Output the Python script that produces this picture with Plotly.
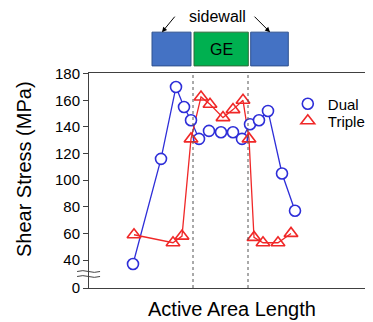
import plotly.graph_objects as go

# Data (x: relative position along active area, arbitrary units)
dual_x = [44, 72, 87, 95, 102, 110, 120, 132, 144, 153, 161, 170, 179, 193, 206]
dual_y = [37, 116, 170, 155, 145, 131, 137, 136, 136, 131, 142, 145, 152, 105, 77]
triple_x = [45, 84, 93, 102, 112, 121, 134, 144, 154, 160, 165, 174, 189, 202]
triple_y = [59, 53, 58, 131, 162.5, 157, 147, 153, 160, 131, 57, 53, 53, 60]

tick_vals = [19, 40, 60, 80, 100, 120, 140, 160, 180]
tick_text = ["0", "40", "60", "80", "100", "120", "140", "160", "180"]

blue = "#2E2ED8"
red = "#F02828"
font = "Liberation Sans, Arial, sans-serif"

fig = go.Figure()
fig.add_trace(go.Scatter(x=dual_x, y=dual_y, mode="lines", line=dict(color=blue, width=1.3),
                         showlegend=False, hoverinfo="skip"))
fig.add_trace(go.Scatter(x=triple_x, y=triple_y, mode="lines", line=dict(color=red, width=1.3),
                         showlegend=False, hoverinfo="skip"))
fig.add_trace(go.Scatter(x=dual_x, y=dual_y, mode="markers", name="Dual", legend="legend",
                         marker=dict(symbol="circle", size=11, color="white",
                                     line=dict(color=blue, width=1.6))))
fig.add_trace(go.Scatter(x=triple_x, y=triple_y, mode="markers", name="Triple", legend="legend2",
                         marker=dict(symbol="triangle-up", size=12, color="rgba(255,255,255,0)",
                                     line=dict(color=red, width=1.6))))

shapes = []
# dashed lines at GE edges
for xv in [104, 159]:
    shapes.append(dict(type="line", xref="x", yref="paper", x0=xv, x1=xv, y0=0, y1=1,
                       line=dict(color="#555555", width=1, dash="dot")))
# top schematic boxes
for (x0, x1, fill, edge) in [(63, 102, "#4472C4", "#2F528F"),
                             (105, 159.3, "#00B050", "#2F6B3A"),
                             (161.7, 199.3, "#4472C4", "#2F528F")]:
    shapes.append(dict(type="rect", xref="x", yref="paper", x0=x0, x1=x1, y0=1.033, y1=1.19,
                       fillcolor=fill, line=dict(color=edge, width=1)))
# axis break symbol
for yc in [0.0767, 0.0535]:
    a = 0.008
    x0, x1 = -0.042, 0.039
    xm = (x0 + x1) / 2
    q1 = (x0 + xm) / 2
    path = f"M {x0},{yc} Q {q1},{yc + a} {xm},{yc} T {x1},{yc}"
    shapes.append(dict(type="path", xref="paper", yref="paper", path=path,
                       line=dict(color="#444444", width=1)))

annotations = [
    dict(text="sidewall", xref="x", yref="paper", x=128, y=1.262, showarrow=False,
         xanchor="center", yanchor="middle",
         font=dict(size=16, color="black", family=font)),
    dict(text="GE", xref="x", yref="paper", x=132, y=1.111, showarrow=False,
         xanchor="center", yanchor="middle",
         font=dict(size=16, color="black", family=font)),
    dict(text="", xref="x", yref="paper", x=73, y=1.19, ax=14, ay=-17, showarrow=True,
         arrowhead=2, arrowsize=1, arrowwidth=1, arrowcolor="black"),
    dict(text="", xref="x", yref="paper", x=181, y=1.19, ax=-17, ay=-17, showarrow=True,
         arrowhead=2, arrowsize=1, arrowwidth=1, arrowcolor="black"),
    dict(text="Active Area Length", xref="paper", yref="paper", x=0.5035, y=-0.097,
         xanchor="center", yanchor="middle", showarrow=False,
         font=dict(size=20, color="black", family=font)),
    dict(text="Shear Stress (MPa)", xref="paper", yref="paper", x=-0.229, y=0.553,
         xanchor="center", yanchor="middle", showarrow=False, textangle=-90,
         font=dict(size=20, color="black", family=font)),
]

leg = dict(xanchor="left", yanchor="middle", bgcolor="rgba(0,0,0,0)",
           font=dict(size=15), itemwidth=30)

# page has an 8px body margin, so the figure is sized/offset to compensate
fig.update_layout(
    width=365, height=314,
    margin=dict(l=81, r=0, t=65, b=34, autoexpand=False),
    paper_bgcolor="white", plot_bgcolor="white",
    font=dict(family=font, size=15, color="black"),
    shapes=shapes, annotations=annotations,
    legend=dict(x=0.70, y=(288 - 104) / 215, **leg),
    legend2=dict(x=0.70, y=(288 - 121) / 215, **leg),
    xaxis=dict(range=[0, 284], showticklabels=False, ticks="", showgrid=False, zeroline=False,
               showline=True, linecolor="#404040", linewidth=1, mirror=True, automargin=False),
    yaxis=dict(range=[19, 180.5], tickvals=tick_vals, ticktext=tick_text, ticks="outside",
               ticklen=5, tickcolor="#404040", showgrid=False, zeroline=False, automargin=False,
               showline=True, linecolor="#404040", linewidth=1),
)

fig.write_html("out.html")
